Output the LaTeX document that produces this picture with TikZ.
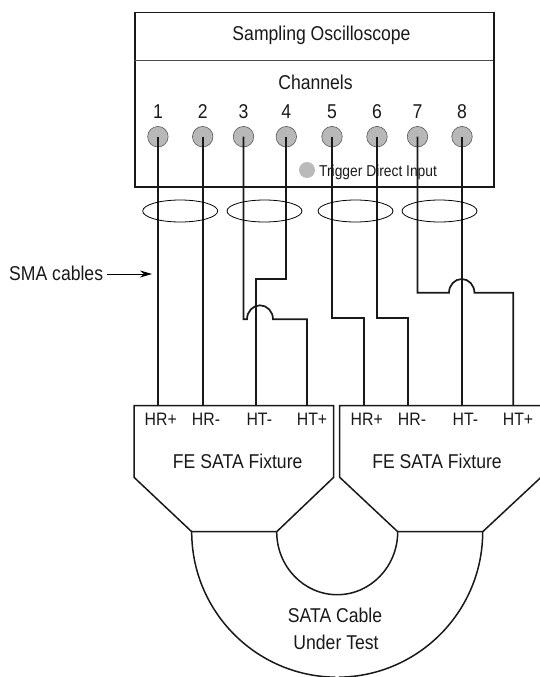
\documentclass[tikz,border=0pt]{standalone}
\usepackage{fontspec}
\setmainfont{Liberation Sans}[FakeStretch=0.88]
\usetikzlibrary{arrows.meta}
\tikzset{
  wire/.style={line width=1.7pt,black!90},
  outline/.style={line width=1.5pt,black!90,line join=miter},
  port/.style={circle,draw=black!65,fill=black!28,line width=0.6pt,minimum size=20.5pt,inner sep=0pt},
  lab/.style={font=\fontsize{20}{24}\selectfont,inner sep=0pt,anchor=base,text=black!90},
  small/.style={font=\fontsize{18}{22}\selectfont,inner sep=0pt,anchor=base,text=black!90},
  arrowline/.style={line width=0.9pt,black,-{Stealth[length=12pt,width=7pt]}},
}
\begin{document}
\begin{tikzpicture}[x=1pt,y=-1pt]
\useasboundingbox (0,0) rectangle (539,677);
% Oscilloscope
\node[draw=black!90,line width=1.5pt,minimum width=359pt,minimum height=174pt,inner sep=0pt,anchor=north west] (scope) at (134,12) {};
\coordinate (ruleL) at (134,60.5);
\coordinate (ruleR) at (493,60.5);
\draw[black!70,line width=0.6pt] (ruleL) -- (ruleR);
\node[lab] (title) at (321.5,40.5) {Sampling Oscilloscope};
\node[lab] (chan) at (315.5,89) {Channels};
% Ports
\foreach \n/\x in {1/157.9,2/202.7,3/243.5,4/286.3,5/332,6/377,7/417.5,8/462}{
  \node[port] (p\n) at (\x,136.7) {};
  \node[lab] (num\n) at (\x,118) {\n};
}
\node[circle,fill=black!27,minimum size=16pt,inner sep=0pt] (trig) at (307,170) {};
\node[inner sep=0pt,anchor=base west,text=black!90,font=\fontsize{15.7}{20}\selectfont] (trigt) at (319,176) {Trigger Direct Input};
% Fixtures
\draw[outline] (134,405.7) -- (333.7,405.7) -- (333.7,477.3) -- (276.7,531.7) -- (191.7,531.7) -- (134,477.3) -- cycle;
\draw[outline] (339.7,477.3) -- (339.7,405.7) -- (541,405.7) -- (541,477.3) -- (482.7,531.7) -- (397.7,531.7) -- cycle;
% Cable
\draw[outline] (191.7,531.7) arc[start angle=180,end angle=269.3,x radius=145.5,y radius=-145.5];
\draw[outline] (482.7,531.7) arc[start angle=0,end angle=-89.3,x radius=145.5,y radius=-145.5];
\draw[outline] (276.7,531.7) arc[start angle=180,end angle=360,x radius=60.5,y radius=-63];
% Connection coordinates on fixtures
\foreach \n/\x in {a/157.9,b/202.7,c/255.7,d/307,e/363.7,f/408.3,g/462,h/513.3}{
  \coordinate (t\n) at (\x,405.7);
}
% Wires
\draw[wire] (p1.center) -- (ta);
\draw[wire] (p2.center) -- (tb);
\draw[wire] (p3.center) |- (247,319.3) arc[start angle=180,end angle=0,x radius=13,y radius=-14] -- (307,319.3) -- (td);
\draw[wire] (p4.center) |- (255.7,279.3) -- (tc);
\draw[wire] (p5.center) |- (363.7,317.7) -- (te);
\draw[wire] (p6.center) |- (408.3,317.7) -- (tf);
\draw[wire] (p7.center) |- (449,292.7) arc[start angle=180,end angle=0,x radius=12.7,y radius=-13.7] -- (513.3,292.7) -- (th);
\draw[wire] (p8.center) -- (tg);
% Cable groups
\foreach \n/\x in {1/180.2,2/264.5,3/355.5,4/439.5}{
  \draw[black,line width=0.8pt] (\x,211) ellipse [x radius=37.5,y radius=11];
}
% SMA label
\node[lab,anchor=base west] (sma) at (9,280) {SMA cables};
\coordinate (smaend) at (152,274);
\coordinate (smastart) at (107,274);
\draw[arrowline] (smastart) -- (smaend);
% Port labels
\foreach \x/\t in {160.8/HR+,206/HR-,259.3/HT-,312/HT+,366.7/HR+,412/HR-,465.5/HT-,518/HT+}{
  \node[small] at (\x,425.7) {\t};
}
\node[lab] (f1) at (237.7,468) {FE SATA Fixture};
\node[lab] (f2) at (437,468) {FE SATA Fixture};
\node[lab] (c1) at (335,622.7) {SATA Cable};
\node[lab] (c2) at (336,649) {Under Test};
\end{tikzpicture}
\end{document}
